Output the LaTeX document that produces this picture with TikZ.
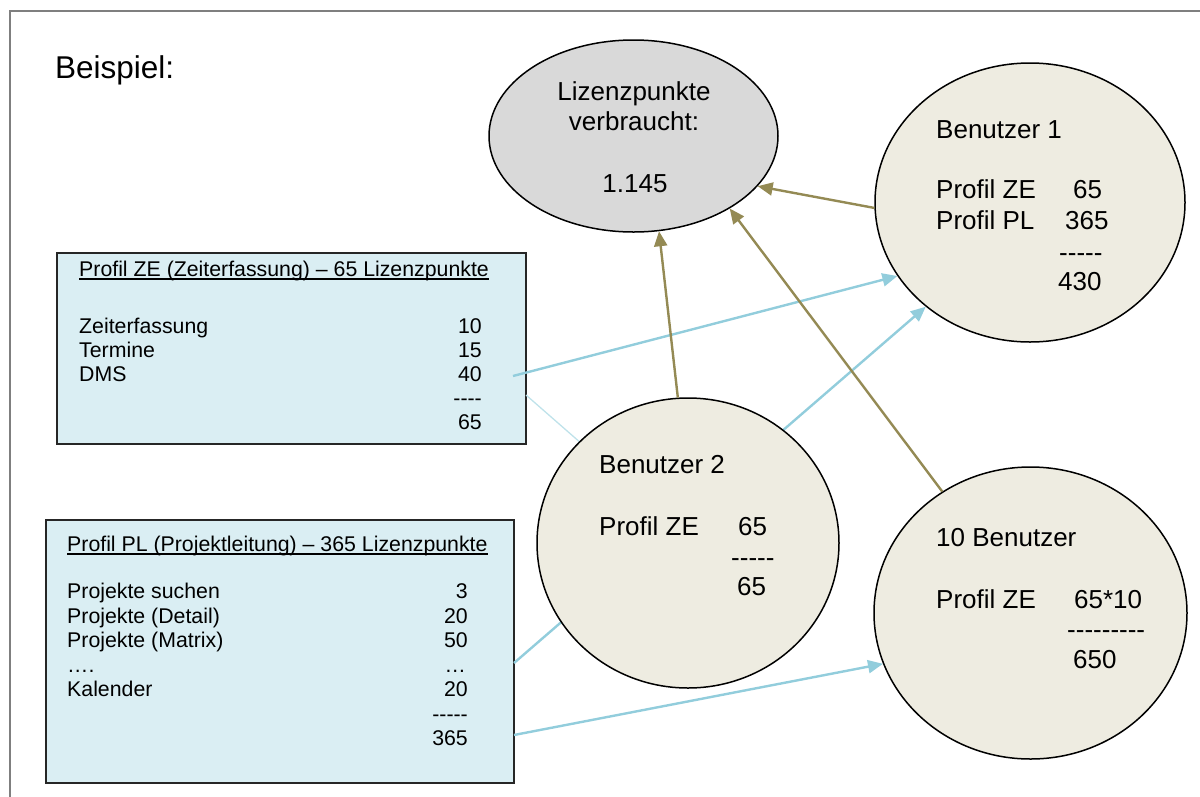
\documentclass[tikz,border=0pt]{standalone}
\usepackage{fontspec}
\setmainfont{Liberation Sans}
\usetikzlibrary{shapes.geometric,arrows.meta}
\pgfdeclarelayer{bg}
\pgfdeclarelayer{lines}
\pgfsetlayers{bg,lines,main}
\definecolor{olivearrow}{HTML}{948A54}
\definecolor{bluearrow}{HTML}{92CDDC}
\definecolor{faintblue}{HTML}{BFE2EA}
\definecolor{userfill}{HTML}{EEECE1}
\definecolor{lzfill}{HTML}{D9D9D9}
\definecolor{boxfill}{HTML}{DAEEF3}
\definecolor{boxdraw}{HTML}{262626}
\definecolor{framecol}{HTML}{7F7F7F}
\newcommand\hy{\mbox{-}}
\tikzset{
  big/.style={inner sep=0pt, font=\fontsize{26}{30}\selectfont},
  bigl/.style={big, anchor=base west},
  boxl/.style={inner sep=0pt, anchor=base west, font=\fontsize{21.3}{24}\selectfont},
  boxr/.style={inner sep=0pt, anchor=base east, font=\fontsize{21.3}{24}\selectfont},
  user/.style={ellipse, draw=black, line width=1.5pt, fill=userfill, inner sep=0pt},
  profbox/.style={rectangle, draw=boxdraw, line width=1.6pt, fill=boxfill, inner sep=0pt},
  feed/.style={draw=olivearrow, line width=2.4pt, -{Triangle[length=15pt,width=13pt]}},
  assign/.style={draw=bluearrow, line width=2.4pt, -{Triangle[length=15pt,width=13pt]}},
  faint/.style={draw=faintblue, line width=1.3pt},
}
\begin{document}
\begin{tikzpicture}[x=1pt,y=-1pt]
\useasboundingbox (0,0) rectangle (1200,796);
\begin{pgfonlayer}{bg}
  \draw[framecol, line width=1.5pt] (10,1000) -- (10,11) -- (1300,11);
  \node[profbox, minimum width=469pt, minimum height=191pt] (ze) at (291.5,348.5) {};
  \node[profbox, minimum width=468pt, minimum height=263pt] (pl) at (280,651.5) {};
  % ZE box text
  \node[boxl] (zeh) at (79,276) {Profil ZE (Zeiterfassung) – 65 Lizenzpunkte};
  \draw[line width=1.1pt] ([yshift=-3pt]zeh.base west) -- ([yshift=-3pt]zeh.base east);
  \node[boxl] (ze1l) at (79,333) {Zeiterfassung};
  \node[boxl] (ze2l) at (79,357) {Termine};
  \node[boxl] (ze3l) at (79,381) {DMS};
  \node[boxr] (ze1n) at (482,333) {10};
  \node[boxr] (ze2n) at (482,357) {15};
  \node[boxr] (ze3n) at (482,381) {40};
  \node[boxr] (ze4n) at (482,405) {\hy\hy\hy\hy};
  \node[boxr] (ze5n) at (482,429) {65};
  % PL box text
  \node[boxl] (plh) at (67,551) {Profil PL (Projektleitung) – 365 Lizenzpunkte};
  \draw[line width=1.1pt] ([yshift=-3pt]plh.base west) -- ([yshift=-3pt]plh.base east);
  \node[boxl] (pl1l) at (67,598) {Projekte suchen};
  \node[boxl] (pl2l) at (67,623) {Projekte (Detail)};
  \node[boxl] (pl3l) at (67,647) {Projekte (Matrix)};
  \node[boxl] (pl4l) at (67,672) {….};
  \node[boxl] (pl5l) at (67,696) {Kalender};
  \node[boxr] (pl1n) at (468,598) {3};
  \node[boxr] (pl2n) at (468,623) {20};
  \node[boxr] (pl3n) at (468,647) {50};
  \node[boxr] (pl4n) at (466,672) {…};
  \node[boxr] (pl5n) at (468,696) {20};
  \node[boxr] (pl6n) at (468,721) {\hy\hy\hy\hy\hy};
  \node[boxr] (pl7n) at (468,745) {365};
\end{pgfonlayer}

\node[inner sep=0pt, anchor=base west, font=\fontsize{31.5}{36}\selectfont] (title) at (55,78) {Beispiel:};

% ellipse and circles
\node[user, fill=lzfill, minimum width=289pt, minimum height=192pt] (lz) at (633.5,136) {};
\node[user, minimum width=310pt, minimum height=279pt] (b1) at (1030,202.5) {};
\node[user, minimum width=302pt, minimum height=290pt] (b2) at (688,543) {};
\node[user, minimum width=313pt, minimum height=292pt] (b3) at (1030.5,613) {};

% ellipse text
\node[big, anchor=base] (lzt1) at (634,100) {Lizenzpunkte};
\node[big, anchor=base] (lzt2) at (634,130) {verbraucht:};
\node[big, anchor=base] (lzt3) at (635,192) {1.145};

% Benutzer 1
\node[bigl] (b1t) at (936,138) {Benutzer 1};
\node[bigl] (b1a) at (936,198) {Profil ZE};
\node[bigl] (b1an) at (1073,198) {65};
\node[bigl] (b1b) at (936,229) {Profil PL};
\node[bigl] (b1bn) at (1065,229) {365};
\node[bigl] (b1d) at (1059,261) {\hy\hy\hy\hy\hy};
\node[bigl] (b1s) at (1058,290) {430};

% Benutzer 2
\node[bigl] (b2t) at (599,473) {Benutzer 2};
\node[bigl] (b2a) at (599,535) {Profil ZE};
\node[bigl] (b2an) at (738,535) {65};
\node[bigl] (b2d) at (731,566) {\hy\hy\hy\hy\hy};
\node[bigl] (b2s) at (737,595) {65};

% 10 Benutzer
\node[bigl] (b3t) at (936,546) {10 Benutzer};
\node[bigl] (b3a) at (936,608) {Profil ZE};
\node[bigl] (b3an) at (1074,608) {65*10};
\node[bigl] (b3d) at (1067,638) {\hy\hy\hy\hy\hy\hy\hy\hy\hy};
\node[bigl] (b3s) at (1073,668) {650};

% connector start points inside the profile boxes
\coordinate (zeA) at (513,376);
\coordinate (zeB) at (526,395);
\coordinate (plA) at (514,663);
\coordinate (plB) at (514,735);

\begin{pgfonlayer}{lines}
  \draw[faint] (zeB) -- (b2.137);
  \draw[assign] (zeA) -- (b1.209);
  \draw[assign] (plA) -- (b1.225);
  \draw[assign] (plB) -- (b3.199);
\end{pgfonlayer}

\draw[feed] (b1.182) -- (lz.-22);
\draw[feed] (b2.94) -- (lz.-75);
\draw[feed] (b3.126) -- (lz.-37);
\end{tikzpicture}
\end{document}
